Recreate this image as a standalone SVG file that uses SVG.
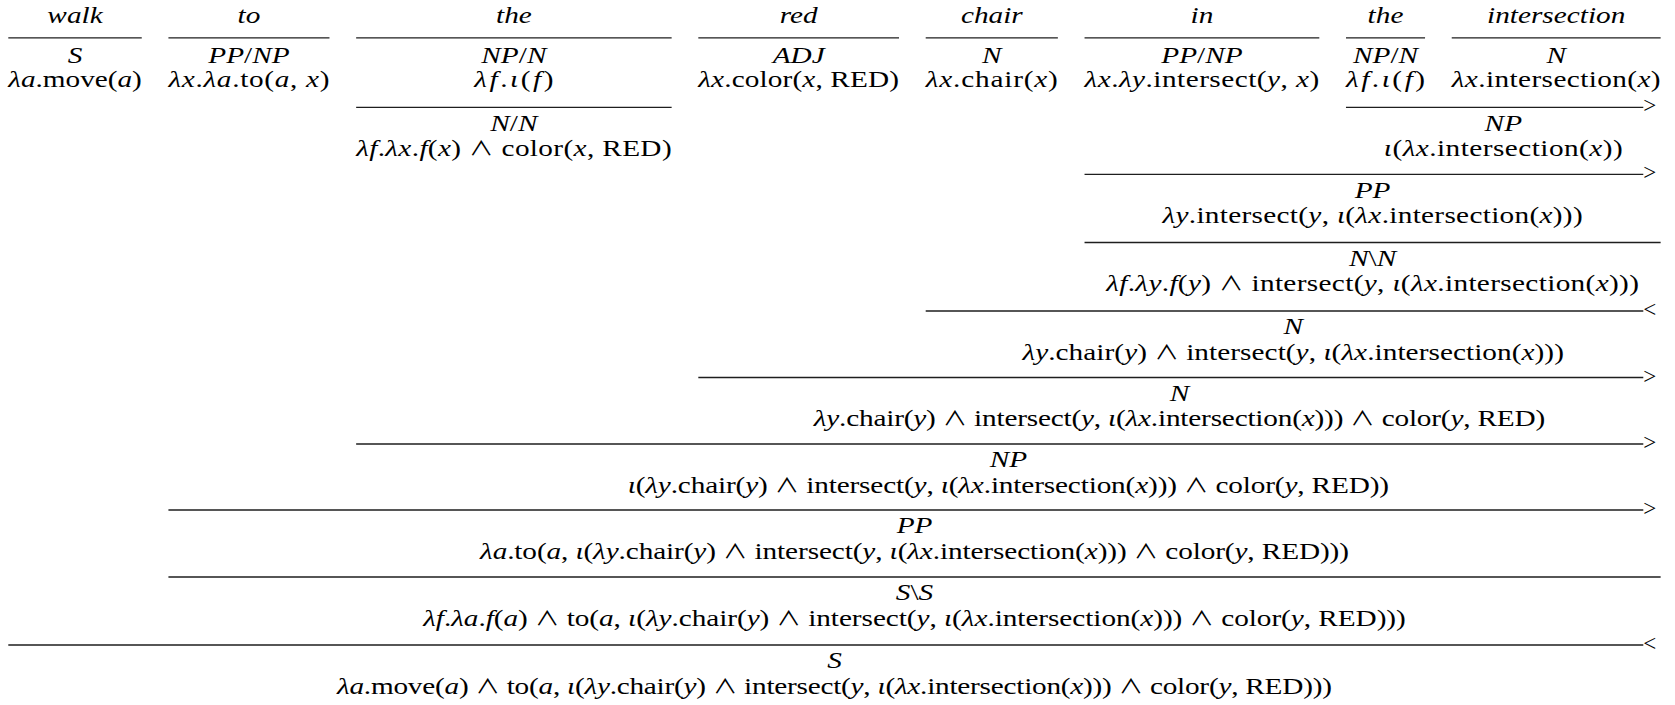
<svg xmlns="http://www.w3.org/2000/svg" width="1675" height="705" viewBox="0 0 1675 705">
<style>
text{font-family:"Liberation Serif","DejaVu Serif",serif;font-size:24px;fill:#000}
.i,.w{font-style:italic}
.a{font-family:"Noto Sans CJK JP","DejaVu Sans",sans-serif;font-style:normal;font-size:20px}
.m{text-anchor:middle}
.g{font-size:23px}
.r{stroke:#1e1e1e;stroke-width:1.3}
</style>
<rect x="0" y="0" width="1675" height="705" fill="#fff"/>
<g id="connectors">
<line class="r" x1="8.3" y1="37.8" x2="141.75" y2="37.8"/>
<line class="r" x1="168.43" y1="37.8" x2="329.47" y2="37.8"/>
<line class="r" x1="356.15" y1="37.8" x2="671.64" y2="37.8"/>
<line class="r" x1="698.32" y1="37.8" x2="899.03" y2="37.8"/>
<line class="r" x1="925.71" y1="37.8" x2="1057.86" y2="37.8"/>
<line class="r" x1="1084.54" y1="37.8" x2="1319.3" y2="37.8"/>
<line class="r" x1="1345.98" y1="37.8" x2="1425.06" y2="37.8"/>
<line class="r" x1="1451.74" y1="37.8" x2="1660.64" y2="37.8"/>
<line class="r" x1="356.15" y1="107.3" x2="671.64" y2="107.3"/>
<line class="r" x1="1345.98" y1="107.3" x2="1643.3" y2="107.3"/><text class="g" x="1643.3" y="113.3">&gt;</text>
<line class="r" x1="1084.54" y1="174.3" x2="1643.3" y2="174.3"/><text class="g" x="1643.3" y="180.3">&gt;</text>
<line class="r" x1="1084.54" y1="242.5" x2="1660.64" y2="242.5"/>
<line class="r" x1="925.71" y1="311" x2="1643.3" y2="311"/><text class="g" x="1643.3" y="317">&lt;</text>
<line class="r" x1="698.32" y1="377.5" x2="1643.3" y2="377.5"/><text class="g" x="1643.3" y="383.5">&gt;</text>
<line class="r" x1="356.15" y1="444" x2="1643.3" y2="444"/><text class="g" x="1643.3" y="450">&gt;</text>
<line class="r" x1="168.43" y1="510" x2="1643.3" y2="510"/><text class="g" x="1643.3" y="516">&gt;</text>
<line class="r" x1="168.43" y1="577" x2="1660.64" y2="577"/>
<line class="r" x1="8.3" y1="645" x2="1643.3" y2="645"/><text class="g" x="1643.3" y="651">&lt;</text>
</g>
<g id="nodes" transform="scale(1.22,1)">
<g id="lex-walk">
<text class="w m" x="61.5" y="23.3">walk</text>
<text class="m" x="61.5" y="62.8"><tspan class="i">S</tspan></text>
<text x="6.8" y="86.8" textLength="109.39" lengthAdjust="spacing"><tspan class="i">λa</tspan>.move(<tspan class="i">a</tspan>)</text>
</g>
<g id="lex-to">
<text class="w m" x="204.06" y="23.3">to</text>
<text class="m" x="204.06" y="62.8"><tspan class="i">PP</tspan>/<tspan class="i">NP</tspan></text>
<text x="138.06" y="86.8" textLength="132" lengthAdjust="spacing"><tspan class="i">λx</tspan>.<tspan class="i">λa</tspan>.to(<tspan class="i">a</tspan>, <tspan class="i">x</tspan>)</text>
</g>
<g id="lex-the1">
<text class="w m" x="421.23" y="23.3">the</text>
<text class="m" x="421.23" y="62.8"><tspan class="i">NP</tspan>/<tspan class="i">N</tspan></text>
<text x="388.82" y="86.8" textLength="64.82" lengthAdjust="spacing"><tspan class="i">λf</tspan>.<tspan class="i">ι</tspan>(<tspan class="i">f</tspan>)</text>
</g>
<g id="lex-red">
<text class="w m" x="654.66" y="23.3">red</text>
<text class="m" x="654.66" y="62.8"><tspan class="i">ADJ</tspan></text>
<text x="572.39" y="86.8" textLength="164.52" lengthAdjust="spacing"><tspan class="i">λx</tspan>.color(<tspan class="i">x</tspan>, RED)</text>
</g>
<g id="lex-chair">
<text class="w m" x="812.94" y="23.3">chair</text>
<text class="m" x="812.94" y="62.8"><tspan class="i">N</tspan></text>
<text x="758.78" y="86.8" textLength="108.32" lengthAdjust="spacing"><tspan class="i">λx</tspan>.chair(<tspan class="i">x</tspan>)</text>
</g>
<g id="lex-in">
<text class="w m" x="985.18" y="23.3">in</text>
<text class="m" x="985.18" y="62.8"><tspan class="i">PP</tspan>/<tspan class="i">NP</tspan></text>
<text x="888.97" y="86.8" textLength="192.43" lengthAdjust="spacing"><tspan class="i">λx</tspan>.<tspan class="i">λy</tspan>.intersect(<tspan class="i">y</tspan>, <tspan class="i">x</tspan>)</text>
</g>
<g id="lex-the2">
<text class="w m" x="1135.67" y="23.3">the</text>
<text class="m" x="1135.67" y="62.8"><tspan class="i">NP</tspan>/<tspan class="i">N</tspan></text>
<text x="1103.26" y="86.8" textLength="64.82" lengthAdjust="spacing"><tspan class="i">λf</tspan>.<tspan class="i">ι</tspan>(<tspan class="i">f</tspan>)</text>
</g>
<g id="lex-intersection">
<text class="w m" x="1275.57" y="23.3">intersection</text>
<text class="m" x="1275.57" y="62.8"><tspan class="i">N</tspan></text>
<text x="1189.95" y="86.8" textLength="171.23" lengthAdjust="spacing"><tspan class="i">λx</tspan>.intersection(<tspan class="i">x</tspan>)</text>
</g>
<g id="node-the-NN">
<text class="m" x="421.23" y="130.8"><tspan class="i">N</tspan>/<tspan class="i">N</tspan></text>
<text x="291.93" y="156.3" textLength="258.6" lengthAdjust="spacing"><tspan class="i">λf</tspan>.<tspan class="i">λx</tspan>.<tspan class="i">f</tspan>(<tspan class="i">x</tspan>) <tspan class="a">∧</tspan> color(<tspan class="i">x</tspan>, RED)</text>
</g>
<g id="node-NP1">
<text class="m" x="1232.22" y="130.8"><tspan class="i">NP</tspan></text>
<text x="1134.32" y="156.3" textLength="195.8" lengthAdjust="spacing"><tspan class="i">ι</tspan>(<tspan class="i">λx</tspan>.intersection(<tspan class="i">x</tspan>))</text>
</g>
<g id="node-PP1">
<text class="m" x="1125.07" y="197.8"><tspan class="i">PP</tspan></text>
<text x="952.89" y="223.3" textLength="344.37" lengthAdjust="spacing"><tspan class="i">λy</tspan>.intersect(<tspan class="i">y</tspan>, <tspan class="i">ι</tspan>(<tspan class="i">λx</tspan>.intersection(<tspan class="i">x</tspan>)))</text>
</g>
<g id="node-NbN">
<text class="m" x="1125.07" y="266"><tspan class="i">N</tspan>\<tspan class="i">N</tspan></text>
<text x="906.75" y="291.5" textLength="436.66" lengthAdjust="spacing"><tspan class="i">λf</tspan>.<tspan class="i">λy</tspan>.<tspan class="i">f</tspan>(<tspan class="i">y</tspan>) <tspan class="a">∧</tspan> intersect(<tspan class="i">y</tspan>, <tspan class="i">ι</tspan>(<tspan class="i">λx</tspan>.intersection(<tspan class="i">x</tspan>)))</text>
</g>
<g id="node-N1">
<text class="m" x="1059.98" y="334.5"><tspan class="i">N</tspan></text>
<text x="838.06" y="360" textLength="443.85" lengthAdjust="spacing"><tspan class="i">λy</tspan>.chair(<tspan class="i">y</tspan>) <tspan class="a">∧</tspan> intersect(<tspan class="i">y</tspan>, <tspan class="i">ι</tspan>(<tspan class="i">λx</tspan>.intersection(<tspan class="i">x</tspan>)))</text>
</g>
<g id="node-N2">
<text class="m" x="966.79" y="401"><tspan class="i">N</tspan></text>
<text x="667.02" y="426.5" textLength="599.53" lengthAdjust="spacing"><tspan class="i">λy</tspan>.chair(<tspan class="i">y</tspan>) <tspan class="a">∧</tspan> intersect(<tspan class="i">y</tspan>, <tspan class="i">ι</tspan>(<tspan class="i">λx</tspan>.intersection(<tspan class="i">x</tspan>))) <tspan class="a">∧</tspan> color(<tspan class="i">y</tspan>, RED)</text>
</g>
<g id="node-NP2">
<text class="m" x="826.56" y="467.5"><tspan class="i">NP</tspan></text>
<text x="514.51" y="493" textLength="624.09" lengthAdjust="spacing"><tspan class="i">ι</tspan>(<tspan class="i">λy</tspan>.chair(<tspan class="i">y</tspan>) <tspan class="a">∧</tspan> intersect(<tspan class="i">y</tspan>, <tspan class="i">ι</tspan>(<tspan class="i">λx</tspan>.intersection(<tspan class="i">x</tspan>))) <tspan class="a">∧</tspan> color(<tspan class="i">y</tspan>, RED))</text>
</g>
<g id="node-PP2">
<text class="m" x="749.62" y="533.5"><tspan class="i">PP</tspan></text>
<text x="393.5" y="559" textLength="712.25" lengthAdjust="spacing"><tspan class="i">λa</tspan>.to(<tspan class="i">a</tspan>, <tspan class="i">ι</tspan>(<tspan class="i">λy</tspan>.chair(<tspan class="i">y</tspan>) <tspan class="a">∧</tspan> intersect(<tspan class="i">y</tspan>, <tspan class="i">ι</tspan>(<tspan class="i">λx</tspan>.intersection(<tspan class="i">x</tspan>))) <tspan class="a">∧</tspan> color(<tspan class="i">y</tspan>, RED)))</text>
</g>
<g id="node-SbS">
<text class="m" x="749.62" y="600.5"><tspan class="i">S</tspan>\<tspan class="i">S</tspan></text>
<text x="346.93" y="626" textLength="805.39" lengthAdjust="spacing"><tspan class="i">λf</tspan>.<tspan class="i">λa</tspan>.<tspan class="i">f</tspan>(<tspan class="i">a</tspan>) <tspan class="a">∧</tspan> to(<tspan class="i">a</tspan>, <tspan class="i">ι</tspan>(<tspan class="i">λy</tspan>.chair(<tspan class="i">y</tspan>) <tspan class="a">∧</tspan> intersect(<tspan class="i">y</tspan>, <tspan class="i">ι</tspan>(<tspan class="i">λx</tspan>.intersection(<tspan class="i">x</tspan>))) <tspan class="a">∧</tspan> color(<tspan class="i">y</tspan>, RED)))</text>
</g>
<g id="node-S">
<text class="m" x="683.99" y="668.5"><tspan class="i">S</tspan></text>
<text x="276.22" y="694" textLength="815.53" lengthAdjust="spacing"><tspan class="i">λa</tspan>.move(<tspan class="i">a</tspan>) <tspan class="a">∧</tspan> to(<tspan class="i">a</tspan>, <tspan class="i">ι</tspan>(<tspan class="i">λy</tspan>.chair(<tspan class="i">y</tspan>) <tspan class="a">∧</tspan> intersect(<tspan class="i">y</tspan>, <tspan class="i">ι</tspan>(<tspan class="i">λx</tspan>.intersection(<tspan class="i">x</tspan>))) <tspan class="a">∧</tspan> color(<tspan class="i">y</tspan>, RED)))</text>
</g>
</g>
</svg>
